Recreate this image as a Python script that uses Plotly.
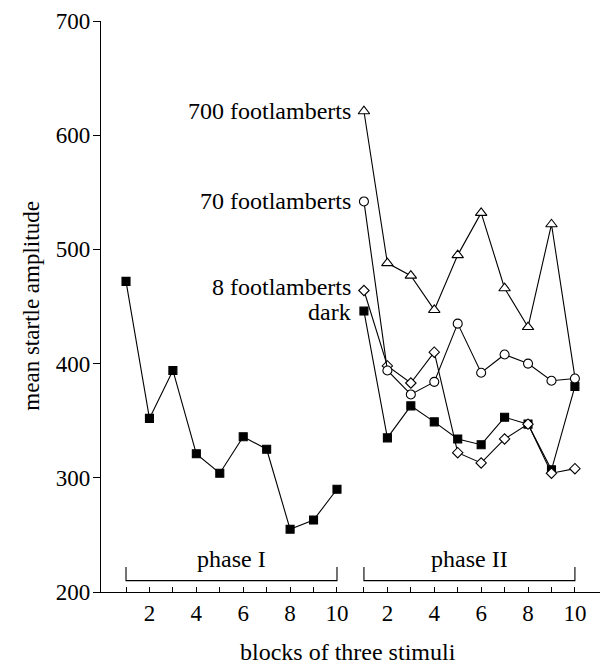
import plotly.graph_objects as go

# ---- data ----
blocks = list(range(1, 11))
phase2_offset = 10.15  # horizontal gap: phase II blocks plotted after phase I

phase1_dark = [472, 352, 394, 321, 304, 336, 325, 255, 263, 290]
phase2_dark = [446, 335, 363, 349, 334, 329, 353, 347, 307, 380]
phase2_8fl = [464, 398, 383, 410, 322, 313, 334, 347, 304, 308]
phase2_70fl = [542, 394, 373, 384, 435, 392, 408, 400, 385, 387]
phase2_700fl = [621, 488, 477, 447, 495, 532, 466, 432, 522, 388]

series_labels = ["700 footlamberts", "70 footlamberts", "8 footlamberts", "dark"]
tick_labels = ["", "2", "", "4", "", "6", "", "8", "", "10"]
y_ticks = [200, 300, 400, 500, 600, 700]

x1 = blocks
x2 = [b + phase2_offset for b in blocks]

FONT = "Liberation Serif, Times New Roman, serif"
FS = 23
FS_LAB = 24
LW = 1.1

fig = go.Figure()

def add(x, y, symbol, fill, size):
    fig.add_trace(go.Scatter(
        x=x, y=y, mode="lines+markers",
        line=dict(color="black", width=LW),
        marker=dict(symbol=symbol, color=fill, size=size, opacity=1,
                    line=dict(color="black", width=LW)),
        showlegend=False, hoverinfo="skip", cliponaxis=False))

# 700 fl: last point sits beneath the 70 fl circle
n = len(phase2_700fl)
add(x2, phase2_700fl, "triangle-up", "white", [10] * (n - 1) + [0])
add(x1, phase1_dark, "square", "black", 8)
add(x2, phase2_dark, "square", "black", 8)
add(x2, phase2_8fl, "diamond", "white", 8)
add(x2, phase2_70fl, "circle", "white", 9)

# series labels at the start of phase II
firsts = [phase2_700fl[0], phase2_70fl[0], phase2_8fl[0], phase2_dark[0]]
yshifts = [0, 0, 4, -1]
for lab, yv, ys in zip(series_labels, firsts, yshifts):
    fig.add_annotation(x=x2[0], y=yv, text=lab, xref="x", yref="y",
                       xanchor="right", yanchor="middle", xshift=-11, yshift=ys,
                       showarrow=False, font=dict(family=FONT, size=FS_LAB, color="black"))

# phase brackets
br_lo, br_hi = 210, 222
for xs, lab in [(x1, "phase I"), (x2, "phase II")]:
    a, b = xs[0], xs[-1]
    fig.add_shape(type="path", xref="x", yref="y",
                  path=f"M {a} {br_hi} L {a} {br_lo} L {b} {br_lo} L {b} {br_hi}",
                  line=dict(color="black", width=LW))
    fig.add_annotation(x=(a + b) / 2, y=br_hi, text=lab, xref="x", yref="y",
                       xanchor="center", yanchor="bottom", yshift=-7, showarrow=False,
                       font=dict(family=FONT, size=FS_LAB, color="black"))

# axis titles
fig.add_annotation(x=0.495, y=-0.105, xref="paper", yref="paper", text="blocks of three stimuli",
                   showarrow=False, xanchor="center", yanchor="middle",
                   font=dict(family=FONT, size=FS_LAB, color="black"))
fig.add_annotation(x=-0.14, y=0.5, xref="paper", yref="paper", text="mean startle amplitude",
                   showarrow=False, xanchor="center", yanchor="middle", textangle=-90,
                   font=dict(family=FONT, size=FS, color="black"))

fig.update_layout(
    width=608, height=664,
    margin=dict(l=101, r=8, t=21, b=72),
    paper_bgcolor="white", plot_bgcolor="white",
    font=dict(family=FONT, size=FS, color="black"),
    xaxis=dict(range=[-0.067, 21.22], showgrid=False, zeroline=False,
               showline=True, linecolor="black", linewidth=LW,
               tickmode="array", tickvals=x1 + x2, ticktext=tick_labels + tick_labels,
               ticks="inside", ticklen=5, tickwidth=LW, tickcolor="black",
               tickfont=dict(family=FONT, size=FS, color="black")),
    yaxis=dict(range=[200, 700], showgrid=False, zeroline=False,
               showline=True, linecolor="black", linewidth=LW,
               tickmode="array", tickvals=y_ticks,
               ticks="outside", ticklen=7, tickwidth=LW, tickcolor="black",
               ticklabelstandoff=-2,
               tickfont=dict(family=FONT, size=FS, color="black")),
)

fig.write_html("out.html")
